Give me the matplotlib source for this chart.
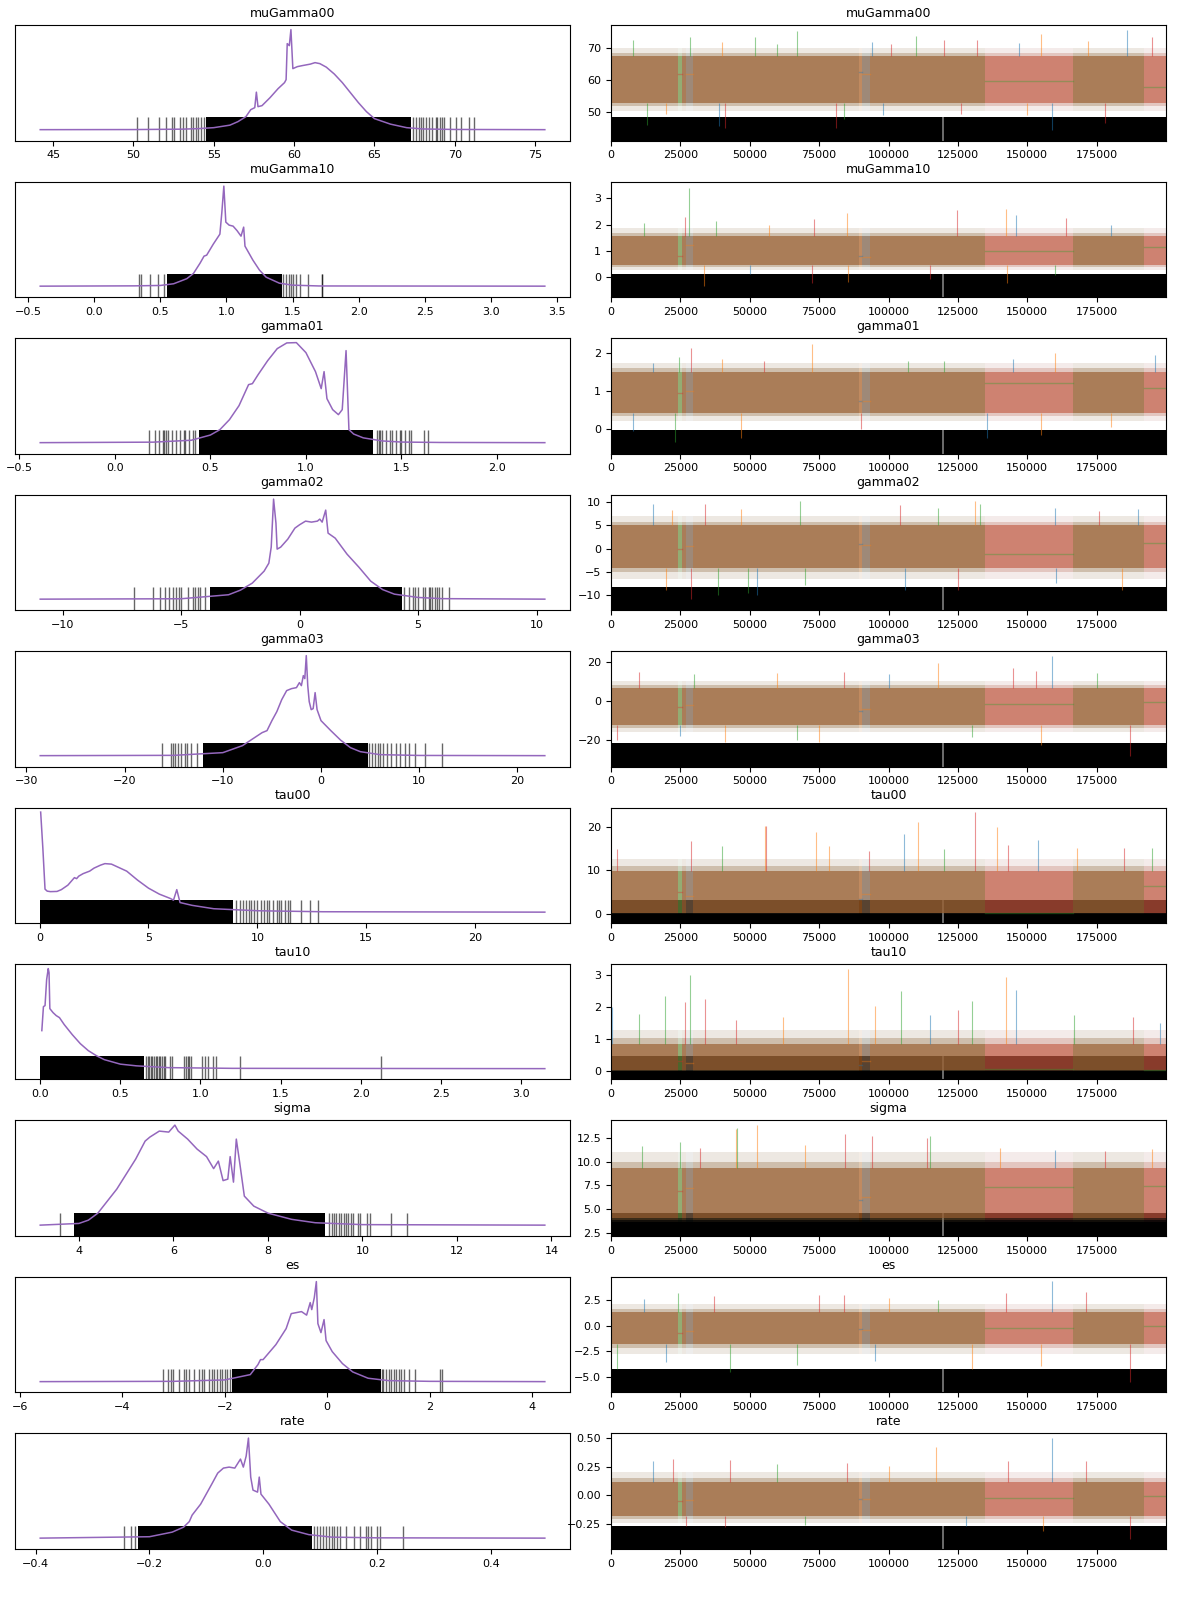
import numpy as np
import matplotlib.pyplot as plt

var_names = ['muGamma00', 'muGamma10', 'gamma01', 'gamma02', 'gamma03',
             'tau00', 'tau10', 'sigma', 'es', 'rate']
chain_colors = ['C0', 'C1', 'C2', 'C3']
n_draws = 200000

# stretches of draws where one chain got stuck (same draws for every variable)
stuck_chain = [3, 1, 0, 1, 2, 2]
stuck_start = [24300, 27000, 89500, 90600, 134900, 191900]
stuck_end = [25700, 29600, 90600, 93200, 166500, 199999]

# ---------------- muGamma00
mg00_kde_x = [44.2, 50, 53, 54, 55, 56, 56.5, 57, 57.3, 57.55, 57.65, 57.75, 58, 58.5, 59, 59.4, 59.5,
              59.57, 59.7, 59.8, 59.92, 60.2, 60.5, 61, 61.3, 61.6, 62, 62.5, 63, 63.5, 64, 64.5, 65,
              66, 67, 68, 70, 75.6]
mg00_kde_y = [0, 0.001, 0.005, 0.01, 0.02, 0.045, 0.08, 0.13, 0.2, 0.22, 0.375, 0.23, 0.24, 0.32, 0.41,
              0.47, 0.5, 0.86, 0.84, 1.0, 0.61, 0.63, 0.64, 0.655, 0.67, 0.66, 0.625, 0.556, 0.47, 0.37,
              0.27, 0.18, 0.11, 0.055, 0.02, 0.007, 0.002, 0]
mg00_rug_dense = [54.5, 67.3]
mg00_rug = [50.2, 50.9, 51.6, 52.0, 52.4, 52.5, 52.9, 53.1, 53.3, 53.6, 53.7, 53.9, 54.0, 54.2, 54.4,
            67.4, 67.6, 67.8, 67.9, 68.0, 68.2, 68.4, 68.6, 68.8, 68.9, 69.1, 69.2, 69.3, 69.7, 70.1,
            70.4, 70.9, 71.2]
mg00_core = [53.0, 67.5]
mg00_fringe = [50.5, 70.0]
mg00_stuck = [61.8, 62.0, 62.5, 61.8, 59.9, 57.8]
mg00_spike_x = [67000, 186000, 155000, 28500, 52000, 110000, 120000, 195000, 8000, 94000,
                40000, 101000, 132000, 147000, 172000, 60000,
                13000, 39000, 41000, 81000, 159000, 178000, 84000, 20000, 98000, 126000, 150000]
mg00_spike_y = [75.5, 75.8, 74.5, 73.5, 73.5, 73.8, 72.5, 73.5, 72.5, 72.0,
                72.0, 71.5, 72.5, 71.8, 72.2, 71.5,
                46.0, 45.5, 45.0, 45.0, 44.5, 46.5, 48.0, 49.5, 49.0, 49.5, 49.0]
mg00_spike_c = [2, 0, 1, 2, 2, 2, 3, 3, 2, 0, 1, 3, 3, 0, 1, 2,
                2, 0, 3, 3, 0, 3, 2, 1, 0, 3, 1]

# ---------------- muGamma10
mg10_kde_x = [-0.41, 0.3, 0.5, 0.6, 0.7, 0.75, 0.8, 0.83, 0.85, 0.9, 0.95, 0.965, 0.98, 0.995, 1.02,
              1.05, 1.08, 1.11, 1.13, 1.14, 1.2, 1.25, 1.3, 1.4, 1.5, 1.7, 3.41]
mg10_kde_y = [0, 0.003, 0.007, 0.024, 0.075, 0.127, 0.23, 0.3, 0.31, 0.42, 0.52, 0.74, 1.0, 0.64, 0.61,
              0.6, 0.555, 0.5, 0.59, 0.4, 0.26, 0.16, 0.09, 0.03, 0.01, 0.002, 0]
mg10_rug_dense = [0.55, 1.42]
mg10_rug = [0.34, 0.35, 0.42, 0.48, 0.53, 1.43, 1.45, 1.47, 1.49, 1.5, 1.53, 1.56, 1.62, 1.72, 1.725]
mg10_core = [0.46, 1.56]
mg10_fringe = [0.25, 1.85]
mg10_stuck = [0.8, 1.2, 0.8, 0.75, 0.98, 1.13]
mg10_spike_x = [28000, 26500, 85000, 124500, 142500, 146000, 164000, 38000, 73000, 12000, 57000, 180000,
                33500, 72500, 85500, 115000, 142800, 50000, 160000]
mg10_spike_y = [3.4, 2.3, 2.45, 2.55, 2.6, 2.35, 2.25, 2.15, 2.2, 2.05, 2.0, 2.0,
                -0.35, -0.25, -0.2, -0.1, -0.25, 0.1, 0.05]
mg10_spike_c = [2, 3, 1, 3, 1, 0, 3, 2, 3, 2, 1, 0, 1, 3, 1, 3, 1, 0, 2]

# ---------------- gamma01
g01_kde_x = [-0.39, 0.2, 0.4, 0.5, 0.55, 0.6, 0.65, 0.7, 0.72, 0.75, 0.8, 0.85, 0.9, 0.95, 1.0, 1.05,
             1.08, 1.095, 1.11, 1.14, 1.17, 1.19, 1.21, 1.225, 1.25, 1.3, 1.4, 1.5, 1.7, 2.25]
g01_kde_y = [0, 0.005, 0.024, 0.076, 0.13, 0.23, 0.37, 0.58, 0.59, 0.68, 0.82, 0.94, 0.997, 1.0, 0.9,
             0.71, 0.54, 0.71, 0.44, 0.33, 0.28, 0.33, 0.92, 0.13, 0.086, 0.048, 0.017, 0.006, 0.002, 0]
g01_rug_dense = [0.44, 1.35]
g01_rug = [0.18, 0.21, 0.23, 0.25, 0.26, 0.27, 0.28, 0.3, 0.32, 0.34, 0.36, 0.37, 0.39, 0.41, 0.42,
           1.37, 1.38, 1.39, 1.4, 1.42, 1.44, 1.45, 1.47, 1.49, 1.5, 1.52, 1.54, 1.55, 1.62, 1.64]
g01_core = [0.43, 1.51]
g01_fringe = [0.2, 1.75]
g01_stuck = [0.95, 1.0, 0.75, 0.75, 1.21, 1.095]
g01_spike_x = [72500, 29000, 24500, 160000, 196000, 107000, 40000, 15000, 55000, 120000, 145000,
               23000, 47000, 135500, 155000, 8000, 90000, 180000]
g01_spike_y = [2.25, 2.15, 1.9, 2.02, 1.95, 1.8, 1.85, 1.75, 1.8, 1.8, 1.85,
               -0.35, -0.25, -0.25, -0.15, -0.05, 0.0, 0.05]
g01_spike_c = [1, 3, 2, 1, 0, 2, 1, 0, 3, 2, 0, 2, 1, 0, 1, 0, 3, 1]

# ---------------- gamma02
g02_kde_x = [-10.95, -5, -3, -2.5, -2, -1.5, -1.3, -1.2, -1.1, -1.0, -0.95, -0.8, -0.5, -0.2, 0, 0.25,
             0.5, 0.75, 0.85, 0.95, 1.1, 1.2, 1.5, 2, 2.5, 3, 3.5, 4, 5, 6, 10.35]
g02_kde_y = [0, 0.004, 0.044, 0.09, 0.16, 0.28, 0.36, 0.52, 1.0, 0.76, 0.5, 0.52, 0.6, 0.71, 0.744, 0.78,
             0.77, 0.78, 0.8, 0.77, 0.89, 0.66, 0.61, 0.45, 0.32, 0.18, 0.096, 0.05, 0.017, 0.005, 0]
g02_rug_dense = [-3.8, 4.3]
g02_rug = [-7.0, -6.2, -5.9, -5.7, -5.5, -5.35, -5.2, -5.1, -5.0, -4.7, -4.5, -4.4, -4.3, -4.2, -4.0,
           4.4, 4.6, 4.8, 4.85, 5.0, 5.2, 5.3, 5.45, 5.5, 5.6, 5.7, 5.8, 5.9, 6.0, 6.3]
g02_core = [-4.2, 5.0]
g02_fringe = [-6.5, 7.0]
g02_stuck = [0.0, 0.5, 1.0, 0.8, -1.1, 1.1]
g02_spike_x = [68000, 15000, 34000, 131000, 133000, 104000, 190000, 160000, 22000, 47000, 118000, 176000,
               29000, 38500, 52500, 49500, 106000, 125000, 20000, 184000, 160500, 70000]
g02_spike_y = [10.3, 9.6, 9.6, 10.2, 9.5, 9.3, 8.4, 8.7, 8.2, 8.5, 8.6, 8.0,
               -10.8, -10.0, -10.0, -9.5, -9.0, -9.0, -9.0, -8.8, -7.5, -7.8]
g02_spike_c = [2, 0, 3, 1, 2, 3, 0, 0, 1, 1, 2, 3, 3, 2, 0, 2, 0, 3, 1, 1, 0, 2]

# ---------------- gamma03
g03_kde_x = [-28.6, -15, -10, -8, -7, -6, -5.5, -5, -4.5, -4, -3.5, -3, -2.5, -2.2, -2.0, -1.8, -1.65,
             -1.5, -1.35, -1.2, -1.0, -0.8, -0.6, -0.4, 0, 1, 2, 3, 4, 6, 10, 22.8]
g03_kde_y = [0, 0.003, 0.03, 0.1, 0.165, 0.23, 0.25, 0.35, 0.44, 0.56, 0.65, 0.67, 0.68, 0.73, 0.7, 0.8,
             0.77, 1.0, 0.7, 0.54, 0.46, 0.47, 0.63, 0.46, 0.35, 0.25, 0.155, 0.08, 0.04, 0.01, 0.002, 0]
g03_rug_dense = [-12.0, 4.8]
g03_rug = [-16.2, -15.3, -15.1, -14.9, -14.6, -14.3, -13.9, -13.7, -13.2, -12.6,
           4.9, 5.2, 5.5, 5.8, 6.0, 6.3, 6.7, 7.1, 7.6, 8.0, 8.6, 9.0, 9.6, 10.6, 12.3]
g03_core = [-12.0, 7.0]
g03_fringe = [-16.0, 10.5]
g03_stuck = [-3.0, -2.0, -5.0, -4.0, -1.5, -0.6]
g03_spike_x = [159000, 118000, 145000, 153000, 10000, 84000, 30000, 60000, 100000, 175000,
               187000, 155000, 41000, 67000, 75000, 2000, 25000, 130000]
g03_spike_y = [23.0, 19.5, 17.0, 15.5, 15.0, 15.0, 14.0, 14.5, 14.0, 14.5,
               -28.0, -22.5, -21.0, -20.0, -21.0, -20.0, -18.0, -18.5]
g03_spike_c = [0, 1, 3, 3, 3, 3, 2, 1, 0, 2, 3, 1, 1, 2, 1, 3, 0, 2]

# ---------------- tau00
t00_kde_x = [0.05, 0.15, 0.25, 0.35, 0.5, 0.8, 1.0, 1.3, 1.5, 1.6, 1.7, 1.8, 2.0, 2.3, 2.5, 2.8, 3.0,
             3.3, 3.6, 4.0, 4.5, 5.0, 5.5, 6.0, 6.15, 6.3, 6.45, 7.0, 8.0, 10.0, 13.0, 23.2]
t00_kde_y = [1.0, 0.64, 0.23, 0.21, 0.205, 0.207, 0.225, 0.27, 0.32, 0.345, 0.335, 0.36, 0.385, 0.41,
             0.44, 0.47, 0.485, 0.48, 0.45, 0.41, 0.32, 0.24, 0.18, 0.137, 0.12, 0.225, 0.096, 0.068,
             0.034, 0.014, 0.004, 0]
t00_rug_dense = [0.03, 8.9]
t00_rug = [9.0, 9.2, 9.35, 9.5, 9.6, 9.7, 9.85, 10.0, 10.15, 10.3, 10.45, 10.55, 10.7, 10.9, 11.0,
           11.1, 11.25, 11.4, 11.5, 12.0, 12.4, 12.8]
t00_core = [0.2, 9.8]
t00_fringe = [0.0, 12.5]
t00_stuck = [5.0, 4.0, 3.5, 4.5, 0.1, 6.4]
t00_spike_x = [131000, 110500, 55500, 56000, 74000, 139000, 105500, 78500, 143000, 154000, 185000, 29000,
               2000, 40000, 93000, 120000, 168000, 195000]
t00_spike_y = [23.3, 21.0, 20.2, 20.2, 18.8, 20.0, 18.4, 15.6, 15.8, 17.0, 15.0, 16.7,
               14.8, 15.5, 14.5, 14.8, 15.0, 15.2]
t00_spike_c = [3, 1, 1, 3, 1, 1, 0, 1, 3, 0, 3, 3, 3, 2, 3, 2, 1, 2]

# ---------------- tau10
t10_kde_x = [0.01, 0.02, 0.03, 0.04, 0.05, 0.055, 0.06, 0.08, 0.1, 0.12, 0.15, 0.2, 0.25, 0.3, 0.35,
             0.4, 0.5, 0.6, 0.8, 1.2, 3.15]
t10_kde_y = [0.38, 0.62, 0.63, 0.89, 1.0, 0.96, 0.6, 0.56, 0.53, 0.51, 0.44, 0.34, 0.25, 0.18, 0.13,
             0.09, 0.045, 0.028, 0.01, 0.003, 0]
t10_rug_dense = [0.0, 0.65]
t10_rug = [0.66, 0.67, 0.68, 0.69, 0.7, 0.71, 0.72, 0.73, 0.74, 0.75, 0.76, 0.77, 0.78, 0.81, 0.82,
           0.9, 0.91, 0.92, 0.93, 0.94, 1.01, 1.03, 1.05, 1.08, 1.1, 1.25, 2.13]
t10_core = [0.02, 0.85]
t10_fringe = [0.0, 1.3]
t10_stuck = [0.3, 0.25, 0.2, 0.3, 0.05, 0.03]
t10_spike_x = [85500, 28500, 142500, 104500, 19500, 34000, 146000, 26500, 95000, 130000, 200,
               10000, 45000, 62000, 115000, 125000, 167000, 188000, 198000]
t10_spike_y = [3.2, 3.0, 2.95, 2.5, 2.35, 2.25, 2.55, 2.15, 2.05, 2.2, 2.0,
               1.8, 1.6, 1.7, 1.75, 1.9, 1.75, 1.7, 1.5]
t10_spike_c = [1, 2, 1, 2, 2, 3, 0, 3, 1, 2, 0, 2, 3, 1, 0, 3, 2, 3, 0]

# ---------------- sigma
sig_kde_x = [3.18, 4.0, 4.2, 4.4, 4.6, 4.8, 5.0, 5.2, 5.4, 5.5, 5.7, 5.9, 6.03, 6.1, 6.3, 6.5, 6.7,
             6.85, 6.95, 7.05, 7.15, 7.2, 7.27, 7.33, 7.4, 7.5, 7.7, 8.0, 8.5, 9.0, 10.0, 13.86]
sig_kde_y = [0, 0.017, 0.05, 0.12, 0.24, 0.36, 0.51, 0.66, 0.84, 0.88, 0.94, 0.93, 1.0, 0.94, 0.86,
             0.76, 0.685, 0.565, 0.64, 0.445, 0.46, 0.685, 0.43, 0.86, 0.63, 0.29, 0.19, 0.12, 0.058,
             0.024, 0.005, 0]
sig_rug_dense = [3.9, 9.2]
sig_rug = [3.6, 9.3, 9.35, 9.4, 9.45, 9.5, 9.55, 9.6, 9.65, 9.7, 9.75, 9.8, 9.9, 9.95, 10.1, 10.15,
           10.6, 10.95]
sig_core = [4.0, 9.4]
sig_fringe = [3.6, 11.0]
sig_stuck = [6.95, 7.2, 6.0, 6.3, 7.33, 7.4]
sig_spike_x = [52500, 45500, 45000, 84500, 94000, 115000, 114000, 11000, 25000, 32000, 70000,
               140000, 160000, 178000, 195000]
sig_spike_y = [13.9, 13.6, 13.5, 13.0, 12.8, 12.7, 12.5, 11.7, 12.1, 11.5, 11.8, 11.5, 11.3, 11.2, 11.4]
sig_spike_c = [1, 2, 1, 3, 3, 2, 3, 2, 2, 3, 1, 1, 0, 3, 1]

# ---------------- es
es_kde_x = [-5.6, -3, -2, -1.5, -1.35, -1.3, -1.25, -1.0, -0.8, -0.7, -0.6, -0.5, -0.4, -0.33, -0.3,
            -0.25, -0.21, -0.18, -0.12, -0.06, -0.02, 0.1, 0.3, 0.5, 0.8, 1.2, 2, 4.25]
es_kde_y = [0, 0.003, 0.017, 0.07, 0.17, 0.22, 0.22, 0.37, 0.53, 0.68, 0.69, 0.7, 0.665, 0.79, 0.72,
            0.84, 1.0, 0.58, 0.49, 0.62, 0.41, 0.3, 0.18, 0.097, 0.034, 0.01, 0.003, 0]
es_rug_dense = [-1.85, 1.05]
es_rug = [-3.2, -3.1, -3.05, -3.0, -2.9, -2.8, -2.75, -2.7, -2.6, -2.5, -2.45, -2.4, -2.3, -2.25, -2.2,
          -2.15, -2.1, -2.05, -2.0, -1.95, -1.9, 1.07, 1.1, 1.15, 1.2, 1.25, 1.3, 1.35, 1.4, 1.45, 1.5,
          1.6, 1.72, 2.2, 2.25]
es_core = [-1.85, 1.3]
es_fringe = [-2.8, 2.1]
es_stuck = [-0.7, -0.5, -0.3, -0.4, -0.21, -0.03]
es_spike_x = [159000, 24000, 75000, 171000, 142500, 84000, 37000, 12000, 100000, 118000,
              43000, 2000, 67000, 187000, 155000, 130000, 20000, 95000]
es_spike_y = [4.3, 3.2, 3.0, 3.3, 3.2, 3.0, 2.9, 2.6, 2.7, 2.5,
              -4.5, -4.2, -3.9, -5.5, -4.0, -4.2, -3.6, -3.5]
es_spike_c = [0, 2, 3, 3, 3, 3, 3, 0, 1, 2, 2, 2, 2, 3, 1, 1, 0, 0]

# ---------------- rate
rate_kde_x = [-0.392, -0.2, -0.16, -0.14, -0.13, -0.125, -0.11, -0.09, -0.08, -0.07, -0.06, -0.05,
              -0.04, -0.035, -0.03, -0.026, -0.022, -0.018, -0.01, -0.007, -0.004, 0.01, 0.03, 0.05,
              0.08, 0.12, 0.2, 0.495]
rate_kde_y = [0, 0.014, 0.06, 0.11, 0.165, 0.23, 0.34, 0.545, 0.65, 0.7, 0.71, 0.7, 0.79, 0.71, 0.82,
              1.0, 0.61, 0.48, 0.46, 0.61, 0.44, 0.34, 0.165, 0.08, 0.035, 0.01, 0.003, 0]
rate_rug_dense = [-0.22, 0.085]
rate_rug = [-0.245, -0.232, -0.225, -0.215, -0.205, -0.19, 0.09, 0.095, 0.1, 0.105, 0.11, 0.115,
            0.12, 0.125, 0.13, 0.135, 0.145, 0.16, 0.17, 0.18, 0.185, 0.19, 0.2, 0.205, 0.245]
rate_core = [-0.18, 0.12]
rate_fringe = [-0.24, 0.2]
rate_stuck = [-0.05, -0.04, -0.03, -0.035, -0.026, -0.008]
rate_spike_x = [159000, 117000, 143000, 22500, 43000, 171000, 15000, 60000, 85000, 100000,
                187000, 155500, 27000, 41000, 70000, 128000]
rate_spike_y = [0.5, 0.42, 0.3, 0.32, 0.31, 0.3, 0.3, 0.27, 0.28, 0.26,
                -0.38, -0.31, -0.27, -0.28, -0.26, -0.27]
rate_spike_c = [0, 1, 3, 3, 3, 3, 0, 2, 3, 1, 3, 1, 3, 3, 2, 0]

# ---------------- axis settings
kde_xticks = [[45, 50, 55, 60, 65, 70, 75], [-0.5, 0, 0.5, 1, 1.5, 2, 2.5, 3, 3.5],
              [-0.5, 0, 0.5, 1, 1.5, 2], [-10, -5, 0, 5, 10], [-30, -20, -10, 0, 10, 20],
              [0, 5, 10, 15, 20], [0, 0.5, 1, 1.5, 2, 2.5, 3], [4, 6, 8, 10, 12, 14],
              [-6, -4, -2, 0, 2, 4], [-0.4, -0.2, 0, 0.2, 0.4]]
trace_ylims = [(41.1, 77.3), (-0.78, 3.65), (-0.65, 2.41), (-13.2, 11.6), (-33.5, 25.8),
               (-2.1, 24.4), (-0.27, 3.36), (2.13, 14.4), (-6.54, 4.74), (-0.47, 0.54)]
trace_yticks = [[50, 60, 70], [0, 1, 2, 3], [0, 1, 2], [-10, -5, 0, 5, 10], [-20, 0, 20],
                [0, 10, 20], [0, 1, 2, 3], [2.5, 5.0, 7.5, 10.0, 12.5], [-5.0, -2.5, 0.0, 2.5],
                [-0.25, 0.0, 0.25, 0.5]]

panels = [
    (mg00_kde_x, mg00_kde_y, mg00_rug_dense, mg00_rug, mg00_core, mg00_fringe, mg00_stuck,
     mg00_spike_x, mg00_spike_y, mg00_spike_c),
    (mg10_kde_x, mg10_kde_y, mg10_rug_dense, mg10_rug, mg10_core, mg10_fringe, mg10_stuck,
     mg10_spike_x, mg10_spike_y, mg10_spike_c),
    (g01_kde_x, g01_kde_y, g01_rug_dense, g01_rug, g01_core, g01_fringe, g01_stuck,
     g01_spike_x, g01_spike_y, g01_spike_c),
    (g02_kde_x, g02_kde_y, g02_rug_dense, g02_rug, g02_core, g02_fringe, g02_stuck,
     g02_spike_x, g02_spike_y, g02_spike_c),
    (g03_kde_x, g03_kde_y, g03_rug_dense, g03_rug, g03_core, g03_fringe, g03_stuck,
     g03_spike_x, g03_spike_y, g03_spike_c),
    (t00_kde_x, t00_kde_y, t00_rug_dense, t00_rug, t00_core, t00_fringe, t00_stuck,
     t00_spike_x, t00_spike_y, t00_spike_c),
    (t10_kde_x, t10_kde_y, t10_rug_dense, t10_rug, t10_core, t10_fringe, t10_stuck,
     t10_spike_x, t10_spike_y, t10_spike_c),
    (sig_kde_x, sig_kde_y, sig_rug_dense, sig_rug, sig_core, sig_fringe, sig_stuck,
     sig_spike_x, sig_spike_y, sig_spike_c),
    (es_kde_x, es_kde_y, es_rug_dense, es_rug, es_core, es_fringe, es_stuck,
     es_spike_x, es_spike_y, es_spike_c),
    (rate_kde_x, rate_kde_y, rate_rug_dense, rate_rug, rate_core, rate_fringe, rate_stuck,
     rate_spike_x, rate_spike_y, rate_spike_c),
]


def moving_segments(chain):
    edges = [0]
    for c, a, b in zip(stuck_chain, stuck_start, stuck_end):
        if c == chain:
            edges += [a, b]
    edges.append(n_draws - 1)
    return [(edges[i], edges[i + 1]) for i in range(0, len(edges), 2) if edges[i + 1] > edges[i]]


# kde panels: peak at 1, baseline at 0, rug hangs from the bottom
kde_ylim = (-0.1085, 1.046)
rug_top = 0.1225
title_size = 9
tick_size = 8

fig, axes = plt.subplots(10, 2, figsize=(12, 16.04), dpi=100)
fig.subplots_adjust(left=0.0125, right=0.9717, top=0.9844, bottom=0.0343, wspace=0.0737, hspace=0.355)

for i, name in enumerate(var_names):
    kx, ky, dense, rug, core, fringe, stuck, sx, sy, sc = panels[i]
    ax1 = axes[i, 0]
    ax2 = axes[i, 1]

    # left: combined kde with divergence rug
    ax1.fill_between(dense, kde_ylim[0], rug_top, color='black', lw=0)
    ax1.vlines(rug, kde_ylim[0], rug_top, color='black', alpha=0.6, lw=1)
    ax1.plot(kx, ky, color='C4', lw=1.1)
    ax1.set_ylim(kde_ylim)
    ax1.set_yticks([])
    ax1.set_xticks(kde_xticks[i])
    ax1.tick_params(labelsize=tick_size)
    ax1.set_title(name, fontsize=title_size)

    # right: per-chain traces over the divergence band
    ylo, yhi = trace_ylims[i]
    div_top = ylo + 0.2 * (yhi - ylo)
    ax2.fill_between([0, n_draws - 1], ylo, div_top, color='black', lw=0, zorder=1)
    ax2.vlines(119500, ylo, div_top, color='0.5', lw=1.2, zorder=1.5)
    in_lo = core[0] - 0.4 * (core[0] - fringe[0])
    in_hi = core[1] + 0.4 * (fringe[1] - core[1])
    for c in range(4):
        col = chain_colors[c]
        for a, b in moving_segments(c):
            ax2.fill_between([a, b], fringe[0], in_lo, color=col, alpha=0.04, lw=0, zorder=2)
            ax2.fill_between([a, b], in_lo, core[0], color=col, alpha=0.13, lw=0, zorder=2)
            ax2.fill_between([a, b], core[1], in_hi, color=col, alpha=0.13, lw=0, zorder=2)
            ax2.fill_between([a, b], in_hi, fringe[1], color=col, alpha=0.04, lw=0, zorder=2)
            ax2.fill_between([a, b], core[0], core[1], color=col, alpha=0.35, lw=0, zorder=2)
    for c, a, b, v in zip(stuck_chain, stuck_start, stuck_end, stuck):
        ax2.plot([a, b], [v, v], color=chain_colors[c], alpha=0.35, lw=1, zorder=3)
    for x, y, c in zip(sx, sy, sc):
        base = core[1] if y > core[1] else core[0]
        ax2.vlines(x, base, y, color=chain_colors[c], alpha=0.5, lw=0.8, zorder=3)
    ax2.set_xlim(0, n_draws - 1)
    ax2.set_ylim(ylo, yhi)
    ax2.set_yticks(trace_yticks[i])
    ax2.set_xticks(np.arange(0, 175001, 25000))
    ax2.tick_params(labelsize=tick_size)
    ax2.set_title(name, fontsize=title_size)

fig.savefig('out.png', dpi=100)
